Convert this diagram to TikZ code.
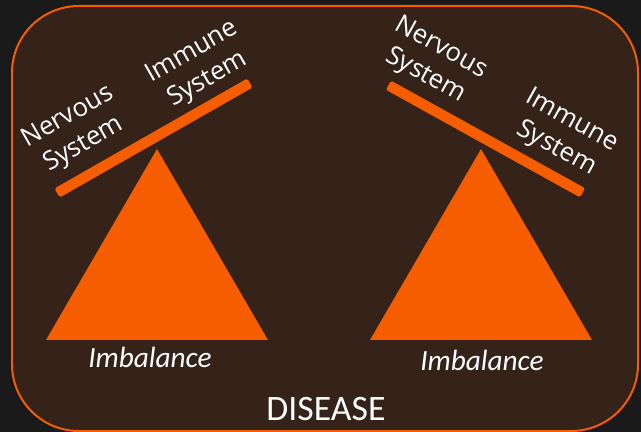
\documentclass[tikz,border=0pt]{standalone}
\usepackage{fontspec}
\setmainfont{Carlito}
\newfontfamily\labelfont{Open Sans}
\usepackage{tikz}
\usetikzlibrary{positioning}
\definecolor{PageDark}{RGB}{26,26,26}
\definecolor{BoardBrown}{RGB}{53,34,25}
\definecolor{SeeOrange}{RGB}{246,92,0}

\begin{document}
\begin{tikzpicture}[x=0.03cm,y=-0.03cm,
        bar/.style={fill=SeeOrange,rounded corners=1.5pt,inner sep=0pt,
                    minimum width=222*0.8536pt,minimum height=10.5*0.8536pt},
        sys/.style={text=white,align=center,inner sep=0pt,
                    font=\labelfont\fontsize{22}{27}\selectfont},
        imb/.style={text=white,inner sep=0pt,font=\itshape\fontsize{25}{30}\selectfont}
      ]
        \useasboundingbox (0,0) rectangle (641,432);
        \fill[PageDark] (0,0) rectangle (641,432);
        \draw[SeeOrange,line width=1.7pt,fill=BoardBrown,rounded corners=57pt]
          (12,6) rectangle (638,431);
        % Left seesaw
        \fill[SeeOrange] (46,340) -- (157,149) -- (268,340) -- cycle;
        \node[bar,rotate=29.7] (lbar) at (153.5,138) {};
        \node[sys,rotate=29.7] (lnerv) at (76,131) {Nervous\\System};
        \node[sys,rotate=29.7] (limm) at (200,66) {Immune\\System};
        \node[imb] (limb) at (150,357) {Imbalance};
        % Right seesaw
        \fill[SeeOrange] (370,340) -- (481,149) -- (592,340) -- cycle;
        \node[bar,rotate=-29] (rbar) at (485.5,139) {};
        \node[sys,rotate=-29] (rnerv) at (433,62) {Nervous\\System};
        \node[sys,rotate=-29] (rimm) at (564,135) {Immune\\System};
        \node[imb] (rimb) at (482,360) {Imbalance};
        \node[text=white,inner sep=0pt,font=\fontsize{30.5}{36}\selectfont] (dis) at (326,409) {DISEASE};
      \end{tikzpicture}
\end{document}
